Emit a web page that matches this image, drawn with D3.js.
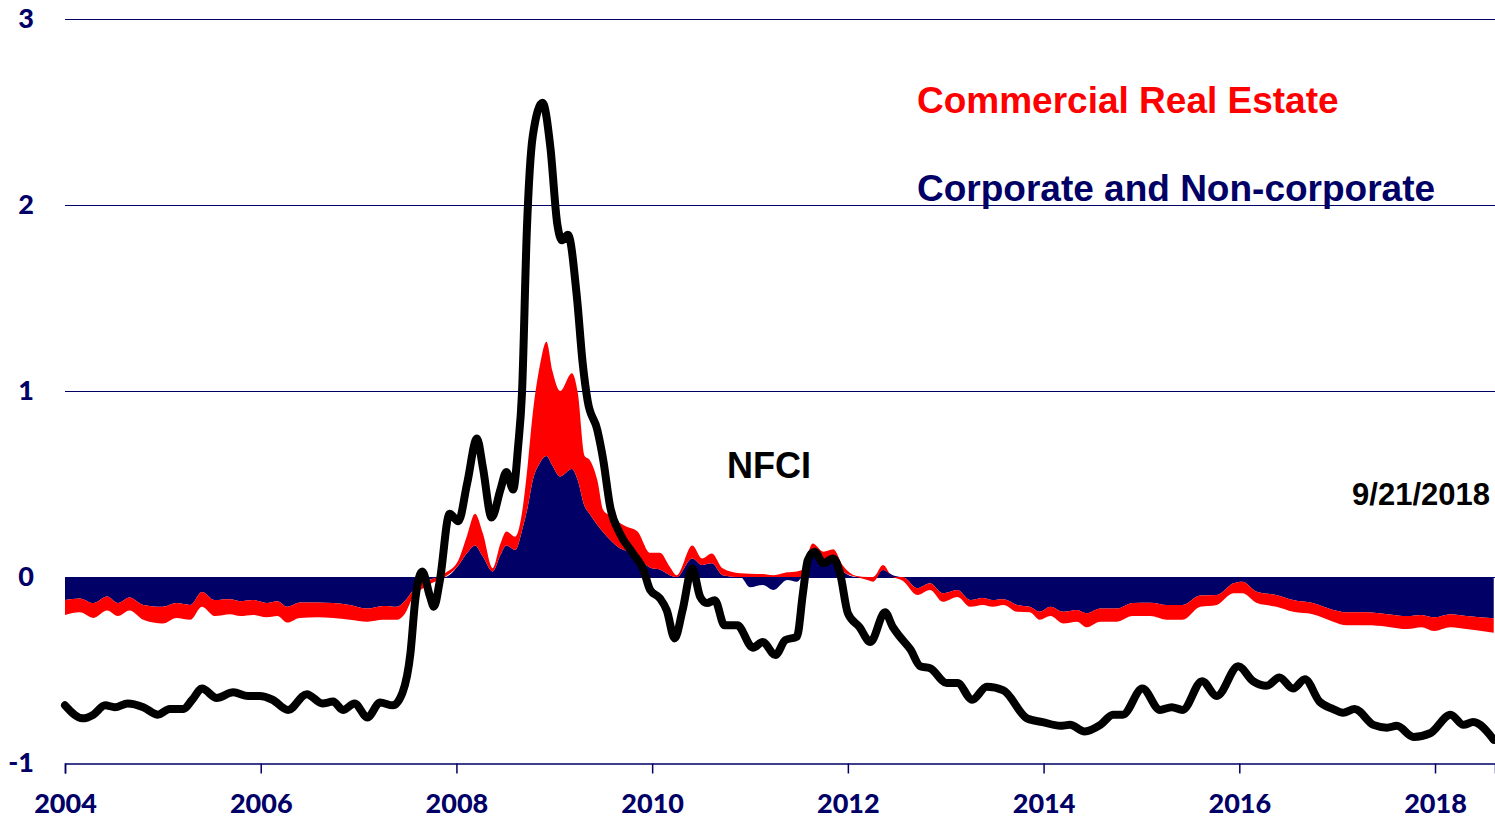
<!DOCTYPE html>
<html>
<head>
<meta charset="utf-8">
<script src="https://cdn.jsdelivr.net/npm/d3@7"></script>
<style>
  body { margin: 0; background: #fff; }
  svg { display: block; }
</style>
</head>
<body>
<div id="chart"></div>
<script>
// NFCI weekly index (decimal years)
var nfciDates = [2004.00, 2004.18, 2004.29, 2004.41, 2004.51, 2004.64, 2004.80, 2004.95, 2005.07, 2005.21,
  2005.30, 2005.40, 2005.55, 2005.72, 2005.87, 2005.99, 2006.12, 2006.28, 2006.47, 2006.63,
  2006.74, 2006.84, 2006.96, 2007.09, 2007.22, 2007.35, 2007.45, 2007.53, 2007.58, 2007.65,
  2007.73, 2007.77, 2007.83, 2007.93, 2008.02, 2008.11, 2008.21, 2008.27, 2008.36, 2008.45,
  2008.51, 2008.58, 2008.63, 2008.67, 2008.72, 2008.78, 2008.88, 2008.96, 2009.03, 2009.08,
  2009.14, 2009.23, 2009.29, 2009.34, 2009.44, 2009.50, 2009.57, 2009.67, 2009.80, 2009.91,
  2009.98, 2010.08, 2010.15, 2010.23, 2010.31, 2010.41, 2010.49, 2010.56, 2010.64, 2010.74,
  2010.87, 2011.03, 2011.13, 2011.26, 2011.36, 2011.48, 2011.54, 2011.59, 2011.66, 2011.75,
  2011.85, 2011.92, 2012.00, 2012.12, 2012.23, 2012.38, 2012.46, 2012.53, 2012.64, 2012.74,
  2012.84, 2013.01, 2013.12, 2013.27, 2013.42, 2013.59, 2013.83, 2013.99, 2014.17, 2014.27,
  2014.42, 2014.58, 2014.71, 2014.81, 2015.01, 2015.19, 2015.31, 2015.42, 2015.62, 2015.77,
  2015.99, 2016.14, 2016.28, 2016.41, 2016.55, 2016.67, 2016.82, 2016.96, 2017.06, 2017.18,
  2017.37, 2017.51, 2017.61, 2017.78, 2017.95, 2018.16, 2018.29, 2018.39, 2018.60];
var nfciValues = [-0.69, -0.76, -0.74, -0.69, -0.70, -0.68, -0.70, -0.74, -0.71, -0.71,
  -0.66, -0.60, -0.65, -0.62, -0.64, -0.64, -0.66, -0.715, -0.63, -0.68,
  -0.67, -0.715, -0.68, -0.755, -0.675, -0.69, -0.62, -0.41, -0.12, 0.03,
  -0.105, -0.16, -0.02, 0.34, 0.30, 0.505, 0.745, 0.59, 0.32, 0.47,
  0.565, 0.47, 0.70, 0.99, 1.87, 2.37, 2.55, 2.31, 1.90, 1.81,
  1.84, 1.51, 1.15, 0.95, 0.79, 0.63, 0.38, 0.235, 0.13, 0.04,
  -0.07, -0.115, -0.18, -0.33, -0.18, 0.047, -0.105, -0.14, -0.125, -0.26,
  -0.26, -0.38, -0.35, -0.42, -0.34, -0.32, -0.09, 0.09, 0.136, 0.074,
  0.10, 0.02, -0.195, -0.27, -0.35, -0.19, -0.27, -0.32, -0.39, -0.48,
  -0.49, -0.57, -0.57, -0.66, -0.59, -0.61, -0.76, -0.78, -0.80, -0.795,
  -0.83, -0.795, -0.74, -0.74, -0.60, -0.715, -0.70, -0.715, -0.56, -0.64,
  -0.48, -0.56, -0.585, -0.54, -0.60, -0.55, -0.67, -0.71, -0.73, -0.71,
  -0.795, -0.81, -0.80, -0.86, -0.84, -0.74, -0.795, -0.78, -0.875];

// contributions (stacked): corporate & non-corporate, commercial real estate
var contribDates = [2004.00, 2004.15, 2004.29, 2004.43, 2004.54, 2004.66, 2004.80, 2005.00, 2005.14, 2005.28,
  2005.40, 2005.53, 2005.69, 2005.79, 2005.92, 2006.06, 2006.17, 2006.27, 2006.40, 2006.58,
  2006.74, 2006.91, 2007.09, 2007.25, 2007.39, 2007.47, 2007.56, 2007.66, 2007.76, 2007.88,
  2008.01, 2008.11, 2008.19, 2008.27, 2008.37, 2008.45, 2008.51, 2008.60, 2008.68, 2008.73,
  2008.78, 2008.85, 2008.92, 2008.98, 2009.06, 2009.18, 2009.24, 2009.31, 2009.36, 2009.44,
  2009.50, 2009.57, 2009.67, 2009.74, 2009.85, 2009.98, 2010.08, 2010.18, 2010.25, 2010.41,
  2010.51, 2010.61, 2010.72, 2010.90, 2011.00, 2011.13, 2011.24, 2011.38, 2011.48, 2011.54,
  2011.64, 2011.75, 2011.85, 2011.95, 2012.09, 2012.20, 2012.26, 2012.36, 2012.46, 2012.56,
  2012.71, 2012.84, 2012.97, 2013.12, 2013.25, 2013.38, 2013.48, 2013.59, 2013.73, 2013.86,
  2013.96, 2014.07, 2014.20, 2014.34, 2014.44, 2014.58, 2014.75, 2014.91, 2015.09, 2015.26,
  2015.42, 2015.60, 2015.77, 2015.94, 2016.03, 2016.18, 2016.38, 2016.55, 2016.75, 2016.96,
  2017.10, 2017.30, 2017.51, 2017.72, 2017.86, 2017.99, 2018.16, 2018.32, 2018.60];
var corpValues = [-0.124, -0.115, -0.14, -0.105, -0.14, -0.11, -0.15, -0.16, -0.14, -0.15,
  -0.08, -0.124, -0.12, -0.13, -0.124, -0.14, -0.13, -0.16, -0.137, -0.137,
  -0.14, -0.15, -0.17, -0.156, -0.16, -0.13, -0.07, -0.025, -0.01, 0.0,
  0.055, 0.13, 0.17, 0.11, 0.03, 0.12, 0.17, 0.145, 0.27, 0.38,
  0.52, 0.61, 0.65, 0.60, 0.54, 0.58, 0.52, 0.38, 0.34, 0.28,
  0.24, 0.20, 0.155, 0.14, 0.11, 0.05, 0.04, 0.01, 0.0, 0.10,
  0.065, 0.074, 0.01, 0.0, -0.055, -0.043, -0.07, -0.016, -0.025, 0.0,
  0.145, 0.064, 0.109, 0.03, 0.0, 0.0, 0.0, 0.037, 0.01, 0.0,
  -0.06, -0.034, -0.088, -0.07, -0.124, -0.113, -0.124, -0.12, -0.15, -0.16,
  -0.187, -0.16, -0.187, -0.177, -0.195, -0.17, -0.17, -0.14, -0.138, -0.15,
  -0.15, -0.10, -0.097, -0.034, -0.025, -0.079, -0.097, -0.124, -0.14, -0.177,
  -0.19, -0.19, -0.20, -0.21, -0.204, -0.217, -0.20, -0.21, -0.222];
var creValues = [-0.08, -0.075, -0.08, -0.075, -0.07, -0.07, -0.08, -0.09, -0.08, -0.08,
  -0.08, -0.086, -0.08, -0.08, -0.08, -0.077, -0.08, -0.085, -0.083, -0.08,
  -0.08, -0.08, -0.07, -0.074, -0.07, -0.07, -0.035, -0.035, -0.02, 0.02,
  0.025, 0.095, 0.17, 0.125, 0.017, 0.06, 0.075, 0.072, 0.11, 0.23,
  0.36, 0.52, 0.615, 0.51, 0.46, 0.515, 0.47, 0.27, 0.29, 0.24,
  0.12, 0.13, 0.135, 0.13, 0.135, 0.08, 0.09, 0.045, 0.01, 0.07,
  0.035, 0.053, 0.037, 0.02, 0.018, 0.016, 0.01, 0.025, 0.03, 0.04,
  0.035, 0.072, 0.04, 0.03, 0.005, -0.016, -0.025, 0.027, 0.0, -0.02,
  -0.037, -0.036, -0.045, -0.037, -0.036, -0.037, -0.036, -0.03, -0.037, -0.03,
  -0.043, -0.05, -0.063, -0.063, -0.075, -0.07, -0.07, -0.07, -0.072, -0.08,
  -0.08, -0.06, -0.053, -0.054, -0.063, -0.061, -0.063, -0.063, -0.06, -0.063,
  -0.07, -0.07, -0.067, -0.07, -0.066, -0.073, -0.07, -0.07, -0.078];

var yTicks = [-1, 0, 1, 2, 3];
var xTicks = [2004, 2006, 2008, 2010, 2012, 2014, 2016, 2018];
var seriesNames = ["Commercial Real Estate", "Corporate and Non-corporate"];

var W = 1495, H = 818;
var navy = "#000066", red = "#ff0000";

var svg = d3.select("#chart").append("svg")
    .attr("width", W)
    .attr("height", H);

var x = d3.scaleLinear().domain([2004, 2018.613]).range([65, 1495]);
var y = d3.scaleLinear().domain([-1, 3]).range([763, 19]);

// gridlines
svg.append("g")
    .selectAll("line")
    .data(yTicks.filter(function (d) { return d > -1; }))
    .enter().append("line")
    .attr("x1", x.range()[0])
    .attr("x2", x.range()[1])
    .attr("y1", function (d) { return y(d) + 0.5; })
    .attr("y2", function (d) { return y(d) + 0.5; })
    .attr("stroke", navy)
    .attr("stroke-width", 1)
    .attr("shape-rendering", "crispEdges");

// stacked contributions
var rows = contribDates.map(function (d, i) {
    return {date: d, corp: corpValues[i], cre: creValues[i]};
});
var stacked = d3.stack()
    .keys(["corp", "cre"])
    .offset(d3.stackOffsetDiverging)(rows);

var area = d3.area()
    .x(function (d) { return x(d.data.date); })
    .y0(function (d) { return y(d[0]); })
    .y1(function (d) { return y(d[1]); })
    .curve(d3.curveMonotoneX);

svg.append("g")
    .selectAll("path")
    .data(stacked)
    .enter().append("path")
    .attr("d", area)
    .attr("fill", function (d) { return d.key === "corp" ? navy : red; });

// NFCI line
var line = d3.line()
    .x(function (d, i) { return x(nfciDates[i]); })
    .y(function (d) { return y(d); })
    .curve(d3.curveMonotoneX);

svg.append("path")
    .datum(nfciValues)
    .attr("d", line)
    .attr("fill", "none")
    .attr("stroke", "#000")
    .attr("stroke-width", 8)
    .attr("stroke-linejoin", "round")
    .attr("stroke-linecap", "round");

// x axis
var xAxis = svg.append("g")
    .attr("transform", "translate(0," + (y(-1) + 0.5) + ")")
    .call(d3.axisBottom(x).tickValues(xTicks).tickFormat(d3.format("d")).tickSize(10).tickPadding(20));
xAxis.select(".domain").attr("stroke", navy).attr("stroke-width", 1.5);
xAxis.selectAll(".tick line").attr("stroke", navy).attr("stroke-width", 1.5);
xAxis.selectAll("text")
    .attr("fill", navy)
    .style("font-family", "Lato, 'Open Sans', sans-serif")
    .style("font-weight", "900")
    .style("font-size", "27px");

// y labels
svg.append("g")
    .selectAll("text")
    .data(yTicks)
    .enter().append("text")
    .attr("x", 34)
    .attr("y", function (d) { return y(d); })
    .attr("dy", "0.35em")
    .attr("text-anchor", "end")
    .attr("fill", navy)
    .style("font-family", "Lato, 'Open Sans', sans-serif")
    .style("font-weight", "900")
    .style("font-size", "27px")
    .text(function (d) { return d; });

// legend-like labels
var labelFont = "'Liberation Sans', Arial, sans-serif";
svg.append("text")
    .attr("x", 917).attr("y", 113)
    .attr("fill", red)
    .style("font-family", labelFont).style("font-weight", "bold").style("font-size", "37px")
    .text(seriesNames[0]);
svg.append("text")
    .attr("x", 917).attr("y", 201)
    .attr("fill", navy)
    .style("font-family", labelFont).style("font-weight", "bold").style("font-size", "37px")
    .text(seriesNames[1]);
svg.append("text")
    .attr("x", 727).attr("y", 478)
    .attr("fill", "#000")
    .style("font-family", labelFont).style("font-weight", "bold").style("font-size", "36px")
    .text("NFCI");
svg.append("text")
    .attr("x", 1490).attr("y", 505)
    .attr("text-anchor", "end")
    .attr("fill", "#000")
    .style("font-family", labelFont).style("font-weight", "bold").style("font-size", "31px")
    .text("9/21/2018");
</script>
</body>
</html>
